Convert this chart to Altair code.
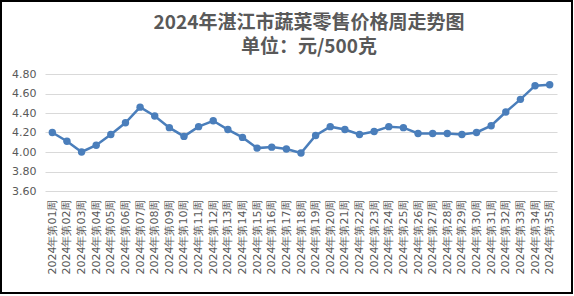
import altair as alt
import pandas as pd

weeks = [f"2024年第{i:02d}周" for i in range(1, 36)]
prices = [4.20, 4.11, 4.00, 4.07, 4.18, 4.30, 4.46, 4.37, 4.25, 4.16,
          4.26, 4.32, 4.23, 4.15, 4.04, 4.05, 4.03, 3.99, 4.17, 4.26,
          4.23, 4.18, 4.21, 4.26, 4.25, 4.19, 4.19, 4.19, 4.18, 4.20,
          4.27, 4.41, 4.54, 4.68, 4.69]
y_ticks = [3.6, 3.8, 4.0, 4.2, 4.4, 4.6, 4.8]
title_lines = ["2024年湛江市蔬菜零售价格周走势图", "单位：元/500克"]

df = pd.DataFrame({"week": weeks, "price": prices})

BLUE = "#4a7ebb"
GREY = "#595959"

x = alt.X("week:N", sort=weeks, title=None,
          scale=alt.Scale(type="point", padding=0.5),
          axis=alt.Axis(labelAngle=-90, ticks=False, domain=False, grid=False,
                        labelFont="DejaVu Sans", labelFontSize=11, labelColor=GREY,
                        labelPadding=8, labelOverlap=False))
y = alt.Y("price:Q", title=None,
          scale=alt.Scale(domain=[3.6, 4.8], nice=False, zero=False),
          axis=alt.Axis(values=y_ticks, format=".2f", ticks=False, domain=False,
                        grid=True, gridColor="#d9d9d9", gridWidth=1,
                        labelFont="DejaVu Sans", labelFontSize=11, labelColor=GREY,
                        labelPadding=9))

base = alt.Chart(df)
line = base.mark_line(color=BLUE, strokeWidth=2.5).encode(x=x, y=y)
pts = base.mark_circle(color=BLUE, size=55, opacity=1).encode(x=x, y=y)

border = alt.Chart(pd.DataFrame({"a": [0]})).mark_rect(
    fill=None, stroke="#000000", strokeWidth=2, clip=False
).encode(x=alt.value(-44), x2=alt.value(527), y=alt.value(-73), y2=alt.value(219))

title_df = pd.DataFrame({"t": title_lines, "row": [0, 1]})
t1 = alt.Chart(title_df).transform_filter("datum.row == 0").mark_text(
    font="Noto Sans CJK SC", fontSize=19, fontWeight="bold", color=GREY,
    align="center", baseline="middle", clip=False
).encode(text="t:N", x=alt.value(264), y=alt.value(-51.5))
t2 = alt.Chart(title_df).transform_filter("datum.row == 1").mark_text(
    font="Noto Sans CJK SC", fontSize=19, fontWeight="bold", color=GREY,
    align="center", baseline="middle", clip=False
).encode(text="t:N", x=alt.value(264), y=alt.value(-27.5))

chart = alt.layer(line, pts, border, t1, t2).properties(
    width=512, height=117,
    autosize=alt.AutoSizeParams(type="none"),
    padding={"left": 45, "top": 74, "right": 17, "bottom": 105},
).configure_view(stroke=None)

chart.save("out.html", embed_options={"renderer": "svg", "actions": False})
